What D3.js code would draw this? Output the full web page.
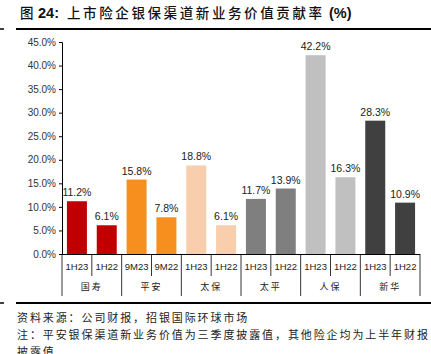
<!DOCTYPE html>
<html>
<head>
<meta charset="utf-8">
<script src="https://cdn.jsdelivr.net/npm/d3@7"></script>
<style>
  body { margin: 0; background: #fff; }
  svg text { font-family: "Liberation Sans", Arial, sans-serif; }
  .cjk { font-family: "Noto Sans CJK SC", sans-serif; }
  .axis path, .axis line { stroke: #000; }
</style>
</head>
<body>
<svg id="chart" width="431" height="354"></svg>
<script>
var companies = ["国寿", "平安", "太保", "太平", "人保", "新华"];
var periods = ["1H23", "1H22", "9M23", "9M22", "1H23", "1H22", "1H23", "1H22", "1H23", "1H22", "1H23", "1H22"];
var values = [11.2, 6.1, 15.8, 7.8, 18.8, 6.1, 11.7, 13.9, 42.2, 16.3, 28.3, 10.9];
var colors = ["#C00000", "#F78F1E", "#F9CEAD", "#7F7F7F", "#C0C0C0", "#404040"];
var yTicks = [0, 5, 10, 15, 20, 25, 30, 35, 40, 45];

var margin = {top: 42, left: 62, right: 11, bottom: 100};
var width = 431 - margin.left - margin.right;
var height = 354 - margin.top - margin.bottom;

var svg = d3.select("#chart");

// title, in pieces placed like the reference
function piece(x, y, txt, cls, weight, size, spacing) {
  var t = svg.append("text")
      .attr("x", x).attr("y", y)
      .attr("font-size", size)
      .attr("font-weight", weight)
      .attr("fill", "#111")
      .text(txt);
  if (cls) t.attr("class", cls);
  if (spacing) t.attr("letter-spacing", spacing);
  return t;
}
piece(20, 18, "图", "cjk", 500, 13.5);
piece(38, 18, "24:", null, "bold", 14.5);
piece(67, 18, "上市险企银保渠道新业务价值贡献率", "cjk", 500, 13.5, 2.6);
piece(329, 18, "(%)", null, "bold", 14.5);

[29, 303].forEach(function(y) {
  svg.append("line")
      .attr("x1", 16).attr("x2", 431)
      .attr("y1", y).attr("y2", y)
      .attr("stroke", "#000").attr("stroke-width", 2);
  svg.append("line")
      .attr("x1", 0).attr("x2", 4)
      .attr("y1", y).attr("y2", y)
      .attr("stroke", "#000").attr("stroke-width", 1.5);
});

var chart = svg.append("g")
    .attr("transform", `translate(${margin.left}, ${margin.top})`);

var xScale = d3.scaleBand()
    .domain(d3.range(values.length))
    .range([0, width])
    .paddingInner(0.33)
    .paddingOuter(0.165);
var yScale = d3.scaleLinear()
    .domain([0, 45])
    .range([height, 0]);

var yAxis = d3.axisLeft(yScale)
    .tickValues(yTicks)
    .tickSize(3)
    .tickFormat(function(d) { return d.toFixed(1) + "%"; });

chart.append("g")
    .attr("class", "axis")
    .call(yAxis)
    .call(function(g) {
      g.select(".domain").attr("d", `M-3,0.5H0.5V${height}`);
      g.selectAll("text").attr("font-size", 10).attr("fill", "#333")
          .attr("font-family", "Liberation Sans, Arial, sans-serif");
    });

var bar = chart.selectAll("g.bar")
    .data(values)
    .enter().append("g")
        .attr("class", "bar")
        .attr("transform", function(d, i) { return `translate(${xScale(i)}, 0)`; });

bar.append("rect")
    .attr("width", xScale.bandwidth())
    .attr("y", function(d) { return yScale(d); })
    .attr("height", function(d) { return height - yScale(d); })
    .attr("fill", function(d, i) { return colors[Math.floor(i / 2)]; });

bar.append("text")
    .attr("x", xScale.bandwidth() / 2)
    .attr("y", function(d) { return yScale(d) - 5; })
    .attr("text-anchor", "middle")
    .attr("font-size", 10.5)
    .attr("fill", "#222")
    .text(function(d) { return d.toFixed(1) + "%"; });

// category axis with two label rows
var step = xScale.step();
chart.append("line")
    .attr("x1", 0).attr("x2", width)
    .attr("y1", height + 0.5).attr("y2", height + 0.5)
    .attr("stroke", "#000");

d3.range(values.length + 1).forEach(function(i) {
  chart.append("line")
      .attr("x1", i * step).attr("x2", i * step)
      .attr("y1", height)
      .attr("y2", i % 2 === 0 ? height + 42 : height + 22)
      .attr("stroke", "#000").attr("stroke-width", 0.8);
});

chart.selectAll("text.period")
    .data(periods)
    .enter().append("text")
        .attr("class", "period")
        .attr("x", function(d, i) { return xScale(i) + xScale.bandwidth() / 2; })
        .attr("y", height + 16)
        .attr("text-anchor", "middle")
        .attr("font-size", 9.5)
        .attr("fill", "#222")
        .text(function(d) { return d; });

chart.selectAll("text.company")
    .data(companies)
    .enter().append("text")
        .attr("class", "company cjk")
        .attr("x", function(d, i) { return (i * 2 + 1) * step; })
        .attr("y", height + 36)
        .attr("text-anchor", "middle")
        .attr("font-size", 9)
        .attr("letter-spacing", 2)
        .attr("fill", "#222")
        .text(function(d) { return d; });

// footer notes
var notes = [
  "资料来源：公司财报，招银国际环球市场",
  "注：平安银保渠道新业务价值为三季度披露值，其他险企均为上半年财报",
  "披露值"
];
svg.selectAll("text.note")
    .data(notes)
    .enter().append("text")
        .attr("class", "note cjk")
        .attr("x", 17)
        .attr("y", function(d, i) { return 322 + i * 17; })
        .attr("font-size", 11)
        .attr("letter-spacing", 1.9)
        .attr("fill", "#222")
        .text(function(d) { return d; });
</script>
</body>
</html>
